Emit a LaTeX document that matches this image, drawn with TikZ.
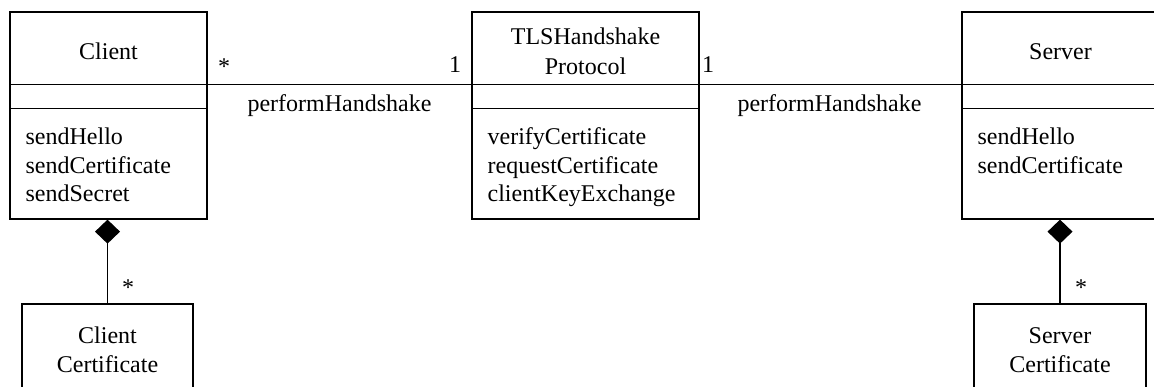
\documentclass[tikz,border=0pt]{standalone}
\usepackage{fontspec}
\setmainfont{Liberation Serif}
\usetikzlibrary{arrows.meta}
\begin{document}
\begin{tikzpicture}[x=1pt,y=-1pt,line width=1.3pt,
  every node/.style={font=\fontsize{24}{28.5}\selectfont, inner sep=0pt},
  box/.style={draw, rectangle, inner sep=0pt},
  op/.style={anchor=base west},
  nm/.style={anchor=base},
  mult/.style={anchor=center},
  comp/.style={-{Diamond[length=24pt,width=25pt,fill=black]}}]
\useasboundingbox (0,0) rectangle (1154,387);
\clip (0,0) rectangle (1154,387);
% class boxes
\node[box, minimum width=197pt, minimum height=207pt] (client) at (108.5,115.5) {};
\node[box, minimum width=227pt, minimum height=207pt] (tls) at (585.5,115.5) {};
\node[box, minimum width=197pt, minimum height=207pt] (server) at (1060.5,115.5) {};
\node[box, minimum width=171pt, minimum height=140pt] (ccert) at (107.5,374) {};
\node[box, minimum width=172pt, minimum height=140pt] (scert) at (1060,374) {};
% compartments
\foreach \b in {client,tls,server}{
  \draw ([yshift=-73pt]\b.north west) -- ([yshift=-73pt]\b.north east);
  \draw ([yshift=-97pt]\b.north west) -- ([yshift=-97pt]\b.north east);
}
% names
\node[nm] (clientname) at (108.5,60) {Client};
\node[nm] (tlsname1) at (585.5,45) {TLSHandshake};
\node[nm] (tlsname2) at (585.5,75) {Protocol};
\node[nm] (servername) at (1060.5,60) {Server};
\node[nm] (ccname1) at (107.5,344) {Client};
\node[nm] (ccname2) at (107.5,372) {Certificate};
\node[nm] (scname1) at (1060,344) {Server};
\node[nm] (scname2) at (1060,372) {Certificate};
% operations
\node[op] (c1) at (25,145) {sendHello};
\node[op] (c2) at (25,173.5) {sendCertificate};
\node[op] (c3) at (25,202) {sendSecret};
\node[op] (t1) at (487,145) {verifyCertificate};
\node[op] (t2) at (487,173.5) {requestCertificate};
\node[op] (t3) at (487,202) {clientKeyExchange};
\node[op] (s1) at (977,145) {sendHello};
\node[op] (s2) at (977,173.5) {sendCertificate};
% associations
\draw ([yshift=-73pt]client.north east) -- ([yshift=-73pt]tls.north west);
\draw ([yshift=-73pt]tls.north east) -- ([yshift=-73pt]server.north west);
\node[mult] (m1) at (224,67) {*};
\node[mult] (m2) at (455,65) {1};
\node[mult] (m3) at (708,65) {1};
\node[nm] (l1) at (339.5,112) {performHandshake};
\node[nm] (l2) at (829.5,112) {performHandshake};
% compositions
\draw[comp] (ccert.north) -- (ccert.north |- client.south);
\draw[comp] (scert.north) -- (scert.north |- server.south);
\node[mult] (m4) at (128,288) {*};
\node[mult] (m5) at (1081,288) {*};
\end{tikzpicture}
\end{document}
